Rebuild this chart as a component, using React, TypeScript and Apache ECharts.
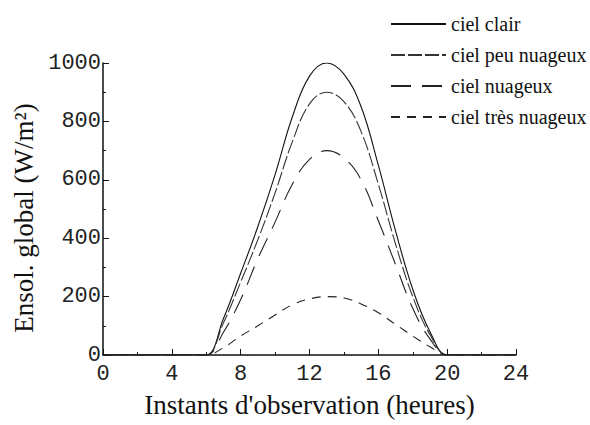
import React, { useEffect, useRef } from "react";
import * as echarts from "echarts";

const hours = [0, 1, 2, 3, 4, 5, 6, 7, 8, 9, 10, 11, 12, 13, 14, 15, 16, 17, 18, 19, 20, 21, 22, 23, 24];
const cielClair = [0, 0, 0, 0, 0, 0, 0, 125, 280, 440, 618, 815, 955, 1000, 962, 850, 650, 425, 225, 80, 0, 0, 0, 0, 0];
const cielPeuNuageux = [0, 0, 0, 0, 0, 0, 0, 110, 250, 395, 555, 730, 860, 900, 868, 765, 585, 380, 200, 70, 0, 0, 0, 0, 0];
const cielNuageux = [0, 0, 0, 0, 0, 0, 0, 78, 190, 330, 455, 585, 670, 700, 675, 600, 460, 310, 160, 55, 0, 0, 0, 0, 0];
const cielTresNuageux = [0, 0, 0, 0, 0, 0, 0, 25, 65, 100, 137, 172, 192, 200, 195, 175, 145, 105, 65, 28, 0, 0, 0, 0, 0];
const seriesNames = ["ciel clair", "ciel peu nuageux", "ciel nuageux", "ciel très nuageux"];
const xTicks = [0, 4, 8, 12, 16, 20, 24];
const yTicks = [0, 200, 400, 600, 800, 1000];

const pairs = (vals: number[]) => hours.map((h, i) => [h, vals[i]]);

export default function App() {
  const ref = useRef<HTMLDivElement>(null);
  useEffect(() => {
    if (!ref.current) return;
    const chart = echarts.init(ref.current, null, { renderer: "svg" });
    const serif = "Liberation Serif";
    const mono = "Liberation Mono";
    const mk = (name: string, vals: number[], type: any, color: string) => ({
      name,
      type: "line",
      data: pairs(vals),
      smooth: 0.4,
      symbol: "none",
      lineStyle: { color, width: 1.1, type },
      itemStyle: { color },
    });
    chart.setOption({
      animation: false,
      backgroundColor: "#ffffff",
      grid: { left: 103, right: 74, top: 63, bottom: 70 },
      legend: {
        orient: "vertical",
        left: 385,
        top: 9,
        itemWidth: 55,
        itemHeight: 14,
        itemGap: 11,
        data: seriesNames,
        itemStyle: { opacity: 0 },
        textStyle: { fontFamily: serif, fontSize: 20, color: "#111" },
      },
      xAxis: {
        type: "value",
        min: 0,
        max: 24,
        interval: 4,
        name: "Instants d'observation (heures)",
        nameLocation: "middle",
        nameGap: 36,
        nameTextStyle: { fontFamily: serif, fontSize: 27, color: "#111" },
        axisLine: { show: true, lineStyle: { color: "#111", width: 1.5 } },
        axisTick: { show: true, inside: true, length: 6, lineStyle: { color: "#111" } },
        minorTick: { show: true, splitNumber: 2, length: 3, lineStyle: { color: "#111" } },
        splitLine: { show: false },
        axisLabel: {
          margin: 8,
          fontFamily: mono,
          fontSize: 22,
          color: "#222",
          formatter: (v: number) => (xTicks.includes(v) ? String(v) : ""),
        },
      },
      yAxis: {
        type: "value",
        min: 0,
        max: 1000,
        interval: 200,
        name: "Ensol. global (W/m²)",
        nameLocation: "middle",
        nameGap: 59,
        nameRotate: 90,
        nameTextStyle: { fontFamily: serif, fontSize: 27, color: "#111", padding: [0, 18, 0, 0] },
        axisLine: { show: true, lineStyle: { color: "#111", width: 1.5 } },
        axisTick: { show: true, inside: true, length: 6, lineStyle: { color: "#111" } },
        minorTick: { show: true, splitNumber: 2, length: 3, lineStyle: { color: "#111" } },
        splitLine: { show: false },
        axisLabel: {
          margin: 2,
          fontFamily: mono,
          fontSize: 22,
          color: "#222",
          formatter: (v: number) => (yTicks.includes(v) ? String(v) : ""),
        },
      },
      series: [
        mk(seriesNames[0], cielClair, "solid", "#111"),
        mk(seriesNames[1], cielPeuNuageux, [14, 3], "#333"),
        mk(seriesNames[2], cielNuageux, [20, 11], "#222"),
        mk(seriesNames[3], cielTresNuageux, [9, 7], "#222"),
      ],
    });
    return () => chart.dispose();
  }, []);
  return <div ref={ref} style={{ width: 590, height: 425, position: "absolute", left: 0, top: 0 }} />;
}
